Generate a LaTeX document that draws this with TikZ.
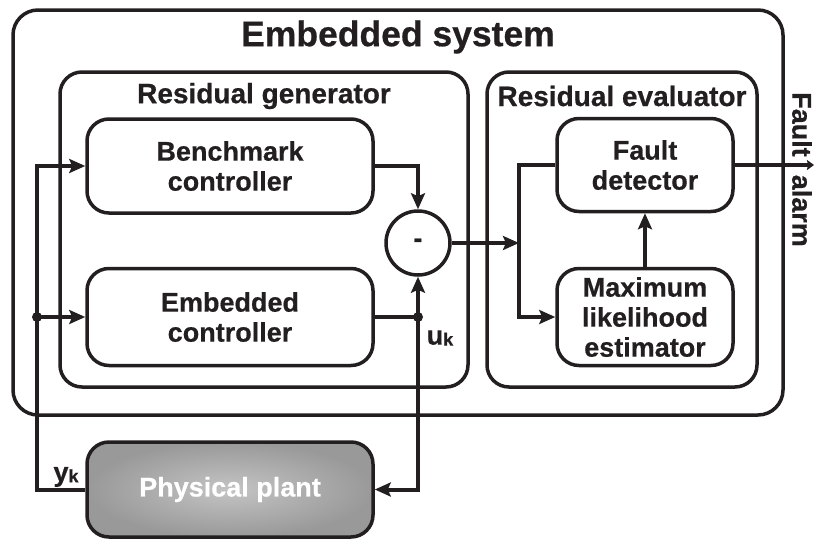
\documentclass[tikz,border=0pt]{standalone}
\usepackage{fontspec}
\setmainfont{Liberation Sans}[BoldFeatures={FakeBold=0.6}]
\usetikzlibrary{arrows.meta}
\definecolor{lc}{HTML}{231F20}
\definecolor{plantin}{HTML}{C4C4C4}
\definecolor{plantout}{HTML}{999999}
\begin{document}
\begin{tikzpicture}[x=1pt,y=-1pt, line width=4pt, draw=lc,
  frame/.style={draw=lc, inner sep=0pt, line width=3.5pt},
  box/.style={draw=lc, rounded corners=22pt, align=center, inner sep=0pt, line width=3.5pt,
    font=\fontsize{27}{30}\selectfont\bfseries, text=lc},
  arr/.style={-{Stealth[length=16pt,width=14pt,inset=3pt]}},
  smallarr/.style={-{Stealth[length=7pt,width=10pt,inset=1pt]}},
  lbl/.style={font=\fontsize{27}{30}\selectfont\bfseries, text=lc, inner sep=0pt},
  dot/.style={circle, fill=lc, draw=none, inner sep=0pt, minimum size=10pt}]

\useasboundingbox (0,0) rectangle (815,539);

% containers
\node[frame, rounded corners=25pt, minimum width=770pt, minimum height=405pt] (emb) at (398,212.5) {};
\node[lbl, font=\fontsize{35.5}{38}\selectfont\bfseries] (embt) at (398,37) {Embedded system};
\node[frame, rounded corners=22pt, minimum width=408pt, minimum height=315pt] (rgen) at (264,229.5) {};
\node[lbl, font=\fontsize{28}{30}\selectfont\bfseries] (rgent) at (264,96) {Residual generator};
\node[frame, rounded corners=22pt, minimum width=270pt, minimum height=315pt] (reval) at (622,229.5) {};
\node[lbl, font=\fontsize{28}{30}\selectfont\bfseries] (revalt) at (622,96) {Residual evaluator};

% blocks
\node[box, minimum width=286pt, minimum height=94pt] (bench) at (230,166) {Benchmark\\controller};
\node[box, minimum width=286pt, minimum height=97pt] (embc) at (230,317) {Embedded\\controller};
\node[circle, draw=lc, line width=3.5pt, minimum size=64pt, inner sep=0pt, lbl] (minus) at (418,243) {-};
\node[box, minimum width=176pt, minimum height=93pt] (fault) at (645,165) {Fault\\detector};
\node[box, minimum width=176pt, minimum height=97pt] (mle) at (645,317) {Maximum\\likelihood\\estimator};
\node[box, minimum width=286pt, minimum height=95pt, shading=radial,
  inner color=plantin, outer color=plantout, text=white] (plant) at (230,489.5) {Physical plant};

% coordinates
\coordinate (lt) at (37,166);
\node[dot] (ld) at (37,317) {};
\node[dot] (ud) at (418,317) {};
\coordinate (ej) at (519,243);
\coordinate (eb) at (519,317);
\coordinate (alarm) at (814,165);

% connectors
\draw[arr] (plant.west) -| (lt) -- (bench.west);
\draw[arr] (ld.center) -- (embc.west);
\draw[arr] (bench.east) -| (minus.north);
\draw (embc.east) -- (ud.center);
\draw[arr] (ud.center) -- (minus.south);
\draw[arr] (ud.center) |- (plant.east);
\draw[arr] (minus.east) -- (ej);
\draw[arr] (fault.west) -| (eb) -- (mle.west);
\draw[arr] (mle.north) -- (fault.south);
\draw[smallarr] (fault.east) -- (alarm);

% labels
\node[lbl, rotate=-90] (alarmt) at (802,169.5) {Fault\hspace{18pt}alarm};
\node[lbl] (uk) at (440,338) {u\raisebox{-1pt}{\fontsize{18}{18}\selectfont k}};
\node[lbl] (yk) at (66,477) {y\raisebox{-1pt}{\fontsize{18}{18}\selectfont k}};
\end{tikzpicture}
\end{document}
